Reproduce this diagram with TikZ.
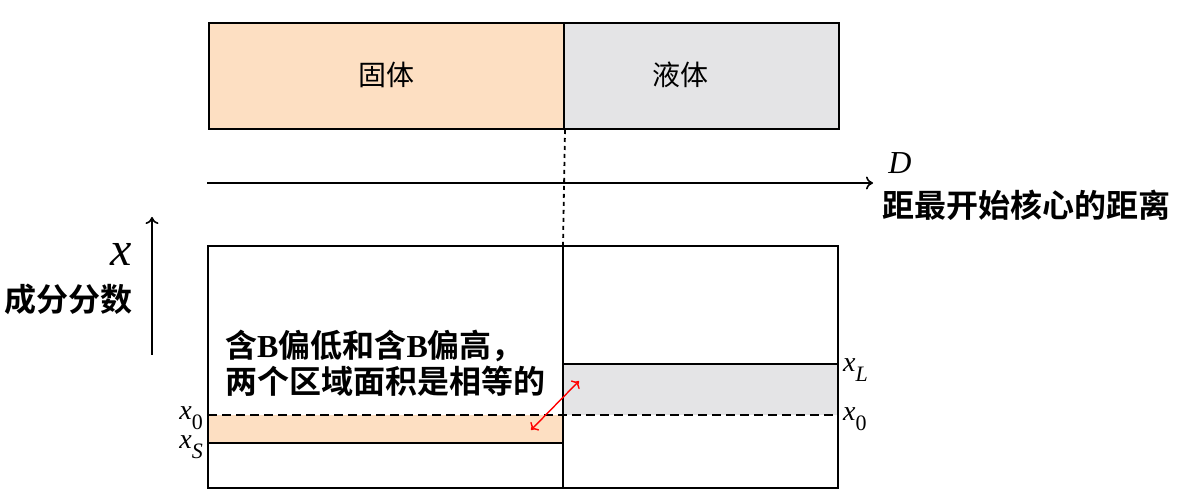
\documentclass[tikz,border=0pt]{standalone}
\usepackage{fontspec}
\setmainfont{Liberation Serif}
\newfontfamily\cjk{Noto Sans CJK SC}
\newfontfamily\cjkb{Noto Sans CJK SC Bold}
\usetikzlibrary{arrows.meta}
\definecolor{solidc}{HTML}{FDDFC2}
\definecolor{liqc}{HTML}{E4E4E6}
\newcommand{\sub}[2]{{\itshape #1}\raisebox{-0.35em}{\fontsize{22}{22}\selectfont #2}}
\begin{document}
\begin{tikzpicture}[x=1pt,y=-1pt,
  boxline/.style={line width=2pt},
  phase/.style={draw,line width=2pt,inner sep=0pt,anchor=north west},
  lab/.style={inner sep=0pt,font=\fontsize{28}{28}\selectfont},
  zhb/.style={inner sep=0pt,font=\cjkb\fontsize{32}{32}\selectfont},
  axis/.style={line width=1.6pt,-{To[length=7pt,width=13pt]}},
]
\useasboundingbox (0,0) rectangle (1187,502);
% top phase boxes
\node[phase,fill=solidc,minimum width=355pt,minimum height=106pt] (solid) at (208,22) {};
\node[phase,fill=liqc,minimum width=275pt,minimum height=106pt] (liquid) at (563,22) {};
\node[inner sep=0pt,font=\cjk\fontsize{28}{28}\selectfont] (tsolid) at (386,75) {固体};
\node[inner sep=0pt,font=\cjk\fontsize{28}{28}\selectfont] (tliq) at (680,75) {液体};
% distance axis
\coordinate (dstart) at (207,183);
\coordinate (dend) at (873,183);
\draw[axis] (dstart) -- (dend);
\node[inner sep=0pt,font=\itshape\fontsize{32}{32}\selectfont] (D) at (900,163) {D};
\node[zhb,anchor=west] (dlab) at (882,205) {距最开始核心的距离};
% composition axis
\coordinate (xstart) at (152,355);
\coordinate (xend) at (152,217);
\draw[axis] (xstart) -- (xend);
\node[inner sep=0pt,font=\itshape\fontsize{48}{48}\selectfont] (xl) at (121,254) {x};
\node[zhb] (xlab) at (69,299) {成分分数};
% bottom box
\fill[solidc] (208,415) rectangle (563,443);
\fill[liqc] (563,364) rectangle (838,415);
\draw[boxline] (208,246) rectangle (838,488);
\draw[boxline] (563,246) -- (563,488);
\draw[boxline] (208,443) -- (563,443);
\draw[boxline] (563,364) -- (838,364);
\draw[line width=1.8pt,dash pattern=on 9pt off 5pt] (208,415) -- (838,415);
% dotted divider
\draw[line width=1.8pt,dash pattern=on 4pt off 4pt] (solid.south east) -- (563,246);
% labels
\node[lab,anchor=west] (xLr) at (843,370) {\sub{x}{\itshape L}};
\node[lab,anchor=west] (x0r) at (843,419) {\sub{x}{0}};
\node[lab,anchor=east] (x0l) at (203,418) {\sub{x}{0}};
\node[lab,anchor=east] (xSl) at (203,447) {\sub{x}{\itshape S}};
\node[zhb,anchor=west] (t1) at (225,346) {含\textbf{\rmfamily B}偏低和含\textbf{\rmfamily B}偏高，};
\node[zhb,anchor=west] (t2) at (225,381) {两个区域面积是相等的};
% red double arrow
\coordinate (ra) at (531,430);
\coordinate (rb) at (579,381);
\draw[red,line width=1.4pt,{To[length=6pt,width=12pt]}-{To[length=6pt,width=12pt]}] (ra) -- (rb);
\end{tikzpicture}
\end{document}
